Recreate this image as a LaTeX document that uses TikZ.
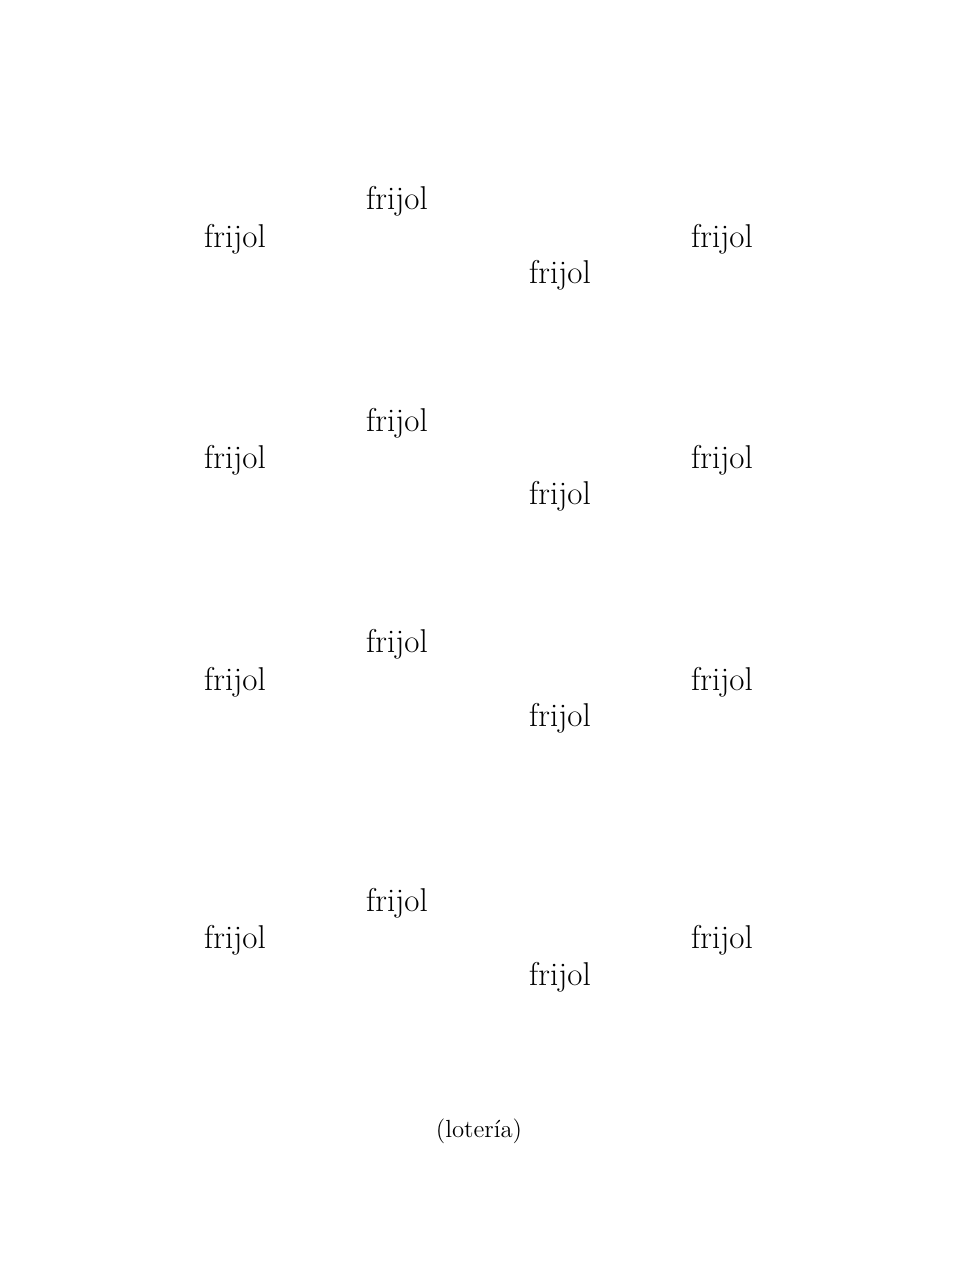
\documentclass[tikz,border=0pt]{standalone}
\usepackage{tikz}

\tikzset{
  bean/.style={inner sep=0pt, font=\fontsize{16.5}{20}\selectfont},
  tag/.style={inner sep=0pt, font=\fontsize{12.4}{15}\selectfont}
}

\begin{document}
\begin{tikzpicture}[x=0.5pt, y=-0.5pt]
\useasboundingbox (0,0) rectangle (969,1276);
% group 1
\node(a1)[bean] at (397,201) {frijol};
\node(b1)[bean] at (235,239) {frijol};
\node(c1)[bean] at (722,239) {frijol};
\node(d1)[bean] at (560,275) {frijol};
% group 2
\node(a2)[bean] at (397,423) {frijol};
\node(b2)[bean] at (235,460) {frijol};
\node(c2)[bean] at (722,460) {frijol};
\node(d2)[bean] at (560,496) {frijol};
% group 3
\node(a3)[bean] at (397,644) {frijol};
\node(b3)[bean] at (235,682) {frijol};
\node(c3)[bean] at (722,682) {frijol};
\node(d3)[bean] at (560,718) {frijol};
% group 4
\node(a4)[bean] at (397,903) {frijol};
\node(b4)[bean] at (235,940) {frijol};
\node(c4)[bean] at (722,940) {frijol};
\node(d4)[bean] at (560,977) {frijol};
\node(t)[tag] at (479,1131) {(lotería)};
\end{tikzpicture}
\end{document}
